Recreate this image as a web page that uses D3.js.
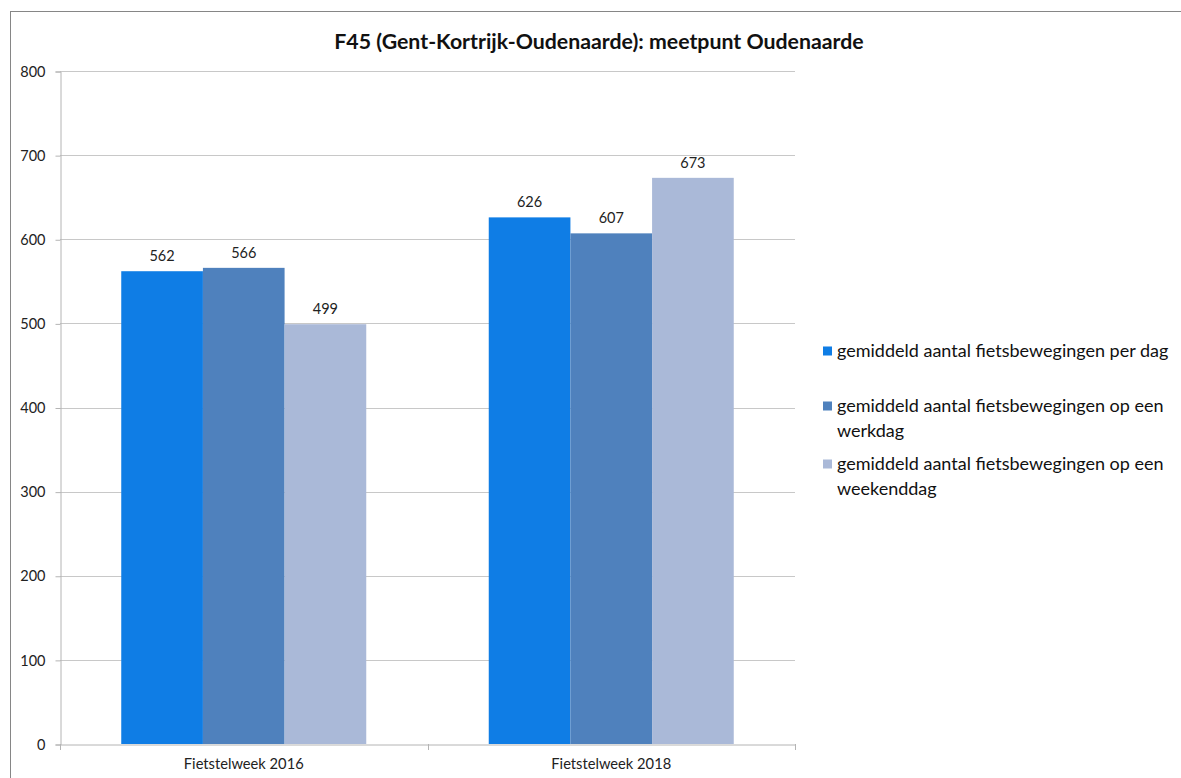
<!DOCTYPE html>
<html>
<head>
<meta charset="utf-8">
<script src="https://cdnjs.cloudflare.com/ajax/libs/d3/7.8.5/d3.min.js"></script>
<style>
  body { margin: 0; background: #fff; }
  text { font-family: Lato, "Open Sans", sans-serif; fill: #222; }
</style>
</head>
<body>
<div id="chart"></div>
<script>
"use strict";
//chart data
var categories = ["Fietstelweek 2016", "Fietstelweek 2018"];
var seriesNames = [
  "gemiddeld aantal fietsbewegingen per dag",
  "gemiddeld aantal fietsbewegingen op een werkdag",
  "gemiddeld aantal fietsbewegingen op een weekenddag"
];
var perDag = [562, 626];
var werkdag = [566, 607];
var weekenddag = [499, 673];
var yTicks = [0, 100, 200, 300, 400, 500, 600, 700, 800];
var title = "F45 (Gent-Kortrijk-Oudenaarde): meetpunt Oudenaarde";

var colors = ["#0f7de5", "#4f81bd", "#aab9d8"];
var seriesValues = [perDag, werkdag, weekenddag];

var w = 1181,
  h = 778;
var plotLeft = 60,
  plotRight = 795,
  plotTop = 71,
  plotBottom = 744;

var svg = d3
  .select("#chart")
  .append("svg")
  .attr("width", w)
  .attr("height", h);

//outer frame, runs off the right and bottom edge
svg
  .append("rect")
  .attr("x", 10.5)
  .attr("y", 11.5)
  .attr("width", 1200)
  .attr("height", 800)
  .attr("fill", "#fff")
  .attr("stroke", "#868686");

svg
  .append("text")
  .attr("x", 599)
  .attr("y", 49)
  .attr("text-anchor", "middle")
  .style("font-size", "21.3px")
  .style("font-weight", "bold")
  .style("fill", "#111")
  .text(title);

var y = d3.scaleLinear().domain([0, 800]).range([plotBottom, plotTop]);
var x0 = d3.scaleBand().domain(categories).range([plotLeft, plotRight]);
//gap width 150% -> bars take 3/4.5 of the category
var inner = x0.bandwidth() * 3 / 4.5;
var x1 = d3
  .scaleBand()
  .domain([0, 1, 2])
  .range([0, inner]);

//gridlines
svg
  .append("g")
  .selectAll("line")
  .data(yTicks.slice(1))
  .join("line")
  .attr("x1", plotLeft)
  .attr("x2", plotRight)
  .attr("y1", function(d) { return Math.round(y(d)) + 0.5; })
  .attr("y2", function(d) { return Math.round(y(d)) + 0.5; })
  .attr("stroke", "#c8c8c8");

var yAxis = svg
  .append("g")
  .attr("transform", "translate(" + (plotLeft + 0.5) + ",0.5)")
  .call(d3.axisLeft(y).tickValues(yTicks).tickSize(5).tickPadding(10));
yAxis.select(".domain").attr("stroke", "#b4b4b4");
yAxis.selectAll(".tick line").attr("stroke", "#b4b4b4");
yAxis
  .selectAll(".tick text")
  .style("font-size", "14.5px")
  .style("font-family", "Lato")
  .attr("fill", "#333");

//bars
var groups = svg
  .append("g")
  .selectAll("g")
  .data(categories)
  .join("g")
  .attr("transform", function(d) {
    return "translate(" + (x0(d) + (x0.bandwidth() - inner) / 2) + ",0)";
  });

function groupData(d, i) {
  return seriesValues.map(function(s, k) {
    return { k: k, v: s[i] };
  });
}

groups
  .selectAll("rect")
  .data(groupData)
  .join("rect")
  .attr("x", function(d) { return x1(d.k); })
  .attr("width", x1.bandwidth())
  .attr("y", function(d) { return y(d.v); })
  .attr("height", function(d) { return plotBottom - y(d.v); })
  .attr("fill", function(d) { return colors[d.k]; });

groups
  .selectAll("text")
  .data(groupData)
  .join("text")
  .attr("x", function(d) { return x1(d.k) + x1.bandwidth() / 2; })
  .attr("y", function(d) { return y(d.v) - 10; })
  .attr("text-anchor", "middle")
  .style("font-size", "14.5px")
  .text(function(d) { return d.v; });

//x axis
var xAxis = svg
  .append("g")
  .attr("transform", "translate(0," + (plotBottom + 0.5) + ")")
  .call(d3.axisBottom(x0).tickSize(0).tickPadding(14).tickSizeOuter(0));
xAxis.select(".domain").attr("stroke", "#b4b4b4");
xAxis
  .selectAll(".tick text")
  .style("font-size", "14.7px")
  .style("font-family", "Lato")
  .attr("fill", "#333");
//category separators
svg
  .append("g")
  .selectAll("line")
  .data([plotLeft, plotLeft + x0.bandwidth(), plotRight])
  .join("line")
  .attr("x1", function(d) { return Math.round(d) + 0.5; })
  .attr("x2", function(d) { return Math.round(d) + 0.5; })
  .attr("y1", plotBottom)
  .attr("y2", plotBottom + 6)
  .attr("stroke", "#b4b4b4");

//legend
var legendLines = [
  [seriesNames[0]],
  ["gemiddeld aantal fietsbewegingen op een", "werkdag"],
  ["gemiddeld aantal fietsbewegingen op een", "weekenddag"]
];
var legendY = [357, 412, 470];
var legend = svg
  .append("g")
  .selectAll("g")
  .data(legendLines)
  .join("g")
  .attr("transform", function(d, i) {
    return "translate(823," + legendY[i] + ")";
  });
legend
  .append("rect")
  .attr("y", -10.5)
  .attr("width", 9)
  .attr("height", 9)
  .attr("fill", function(d, i) { return colors[i]; });
legend
  .append("text")
  .attr("x", 14)
  .style("font-size", "18px")
  .style("fill", "#111")
  .selectAll("tspan")
  .data(function(d) { return d; })
  .join("tspan")
  .attr("x", 14)
  .attr("dy", function(d, i) { return i === 0 ? 0 : 25; })
  .text(function(d) { return d; });
</script>
</body>
</html>
